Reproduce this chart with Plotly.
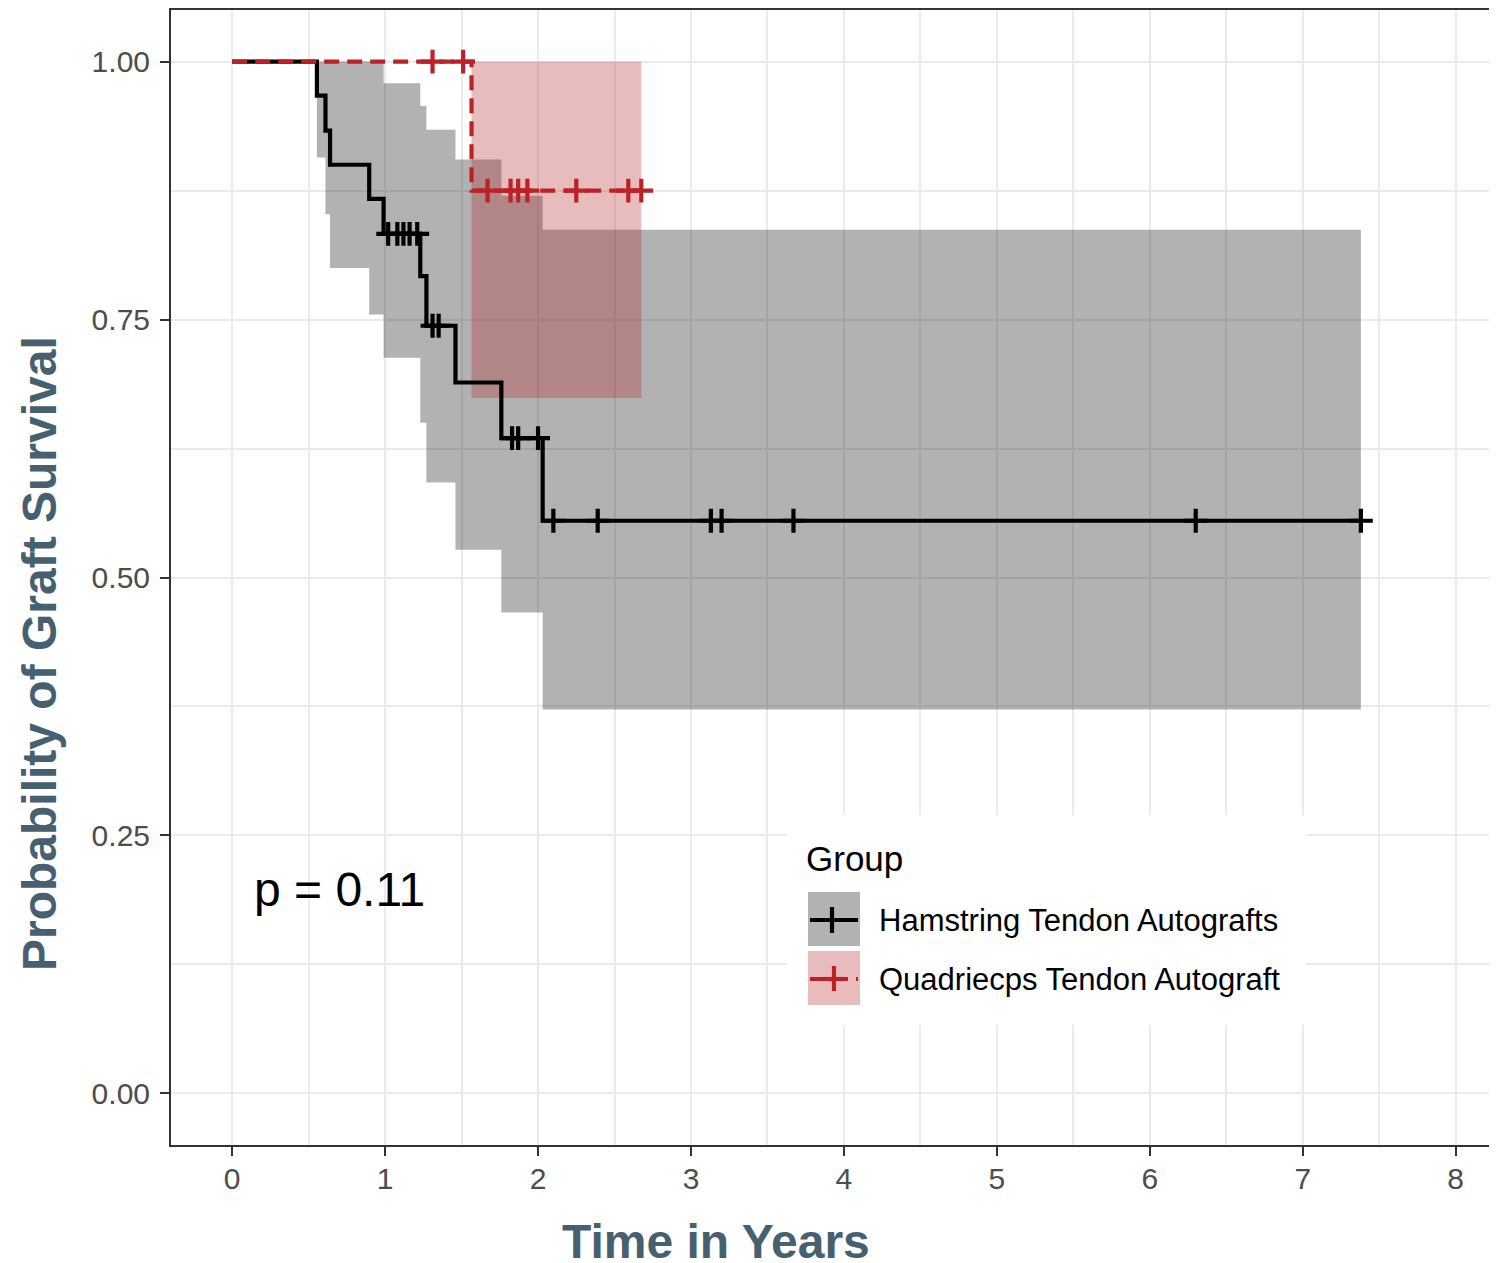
import plotly.graph_objects as go

# ---------------- data ----------------
ham_name = "Hamstring Tendon Autografts"
quad_name = "Quadriecps Tendon Autograft"

ham_time = [0, 0.554, 0.61, 0.64, 0.896, 0.99, 1.23, 1.27, 1.46, 1.76, 2.03, 7.38]
ham_surv = [1.0, 0.967, 0.933, 0.900, 0.867, 0.833, 0.792, 0.744, 0.689, 0.635, 0.555, 0.555]
ham_upper = [1.0, 1.0, 1.0, 1.0, 1.0, 0.979, 0.957, 0.934, 0.905, 0.870, 0.837, 0.837]
ham_lower = [1.0, 0.907, 0.852, 0.800, 0.755, 0.713, 0.650, 0.592, 0.527, 0.466, 0.372, 0.372]
ham_cens_time = [1.02, 1.08, 1.12, 1.16, 1.21, 1.31, 1.35, 1.83, 1.87, 2.00,
                 2.10, 2.39, 3.13, 3.20, 3.67, 6.30, 7.38]
ham_cens_surv = [0.833, 0.833, 0.833, 0.833, 0.833, 0.744, 0.744, 0.635, 0.635, 0.635,
                 0.555, 0.555, 0.555, 0.555, 0.555, 0.555, 0.555]

quad_time = [0, 1.565, 2.675]
quad_surv = [1.0, 0.875, 0.875]
quad_upper = [1.0, 1.0, 1.0]
quad_lower = [1.0, 0.674, 0.674]
quad_cens_time = [1.31, 1.51, 1.67, 1.82, 1.87, 1.93, 2.25, 2.59, 2.675]
quad_cens_surv = [1.0, 1.0, 0.875, 0.875, 0.875, 0.875, 0.875, 0.875, 0.875]

x_ticks = [0, 1, 2, 3, 4, 5, 6, 7, 8]
x_minor = [0.5, 1.5, 2.5, 3.5, 4.5, 5.5, 6.5, 7.5]
y_ticks = [0, 0.25, 0.5, 0.75, 1.0]
y_ticktext = ["0.00", "0.25", "0.50", "0.75", "1.00"]
y_minor = [0.125, 0.375, 0.625, 0.875]

p_text = "p = 0.11"
legend_title = "Group"
x_title = "Time in Years"
y_title = "Probability of Graft Survival"

# ---------------- styles ----------------
FONT = "Liberation Sans, Arial, sans-serif"
BLACK = "#000000"
RED = "#BB2228"
GREY_FILL = "rgba(0,0,0,0.3)"
RED_FILL = "rgba(178,34,34,0.3)"
TITLE_COL = "#46606F"
TICK_COL = "#4D4D4D"
GRID = "#EBEBEB"
LW = 4.2
DASH = "15px,8px"

OFF = 8  # page body margin
W, H = 1497 - OFF, 1263 - OFF
L, T = 171 - OFF, 10 - OFF
R = 0
B = H - (1145 - OFF)
PW, PH = W - L - R, H - T - B


def px(xp):
    return (xp - OFF - L) / PW


def py(yp):
    return (H - B - (yp - OFF)) / PH


fig = go.Figure()

# confidence bands
fig.add_trace(go.Scatter(x=ham_time, y=ham_lower, mode="lines", line=dict(width=0, shape="hv"),
                         showlegend=False, hoverinfo="skip"))
fig.add_trace(go.Scatter(x=ham_time, y=ham_upper, mode="lines", line=dict(width=0, shape="hv"),
                         fill="tonexty", fillcolor=GREY_FILL, showlegend=False, hoverinfo="skip"))
fig.add_trace(go.Scatter(x=quad_time, y=quad_lower, mode="lines", line=dict(width=0, shape="hv"),
                         showlegend=False, hoverinfo="skip"))
fig.add_trace(go.Scatter(x=quad_time, y=quad_upper, mode="lines", line=dict(width=0, shape="hv"),
                         fill="tonexty", fillcolor=RED_FILL, showlegend=False, hoverinfo="skip"))

# survival curves
fig.add_trace(go.Scatter(x=ham_time, y=ham_surv, mode="lines", name=ham_name,
                         line=dict(color=BLACK, width=LW, shape="hv"), showlegend=False))
fig.add_trace(go.Scatter(x=ham_cens_time, y=ham_cens_surv, mode="markers", showlegend=False,
                         marker=dict(symbol="cross-thin", size=17, line=dict(color=BLACK, width=LW))))
fig.add_trace(go.Scatter(x=quad_time, y=quad_surv, mode="lines", name=quad_name,
                         line=dict(color=RED, width=LW, shape="hv", dash=DASH), showlegend=False))
fig.add_trace(go.Scatter(x=quad_cens_time, y=quad_cens_surv, mode="markers", showlegend=False,
                         marker=dict(symbol="cross-thin", size=17, line=dict(color=RED, width=LW))))

# ---------------- manual legend (ggplot style) ----------------
shapes = [
    dict(type="rect", xref="paper", yref="paper", x0=px(787), x1=px(1306), y0=py(1025), y1=py(815),
         fillcolor="white", line=dict(width=0), layer="above"),
    dict(type="rect", xref="paper", yref="paper", x0=px(808), x1=px(860), y0=py(946), y1=py(892),
         fillcolor=GREY_FILL, line=dict(width=0), layer="above"),
    dict(type="rect", xref="paper", yref="paper", x0=px(808), x1=px(860), y0=py(1005), y1=py(951),
         fillcolor=RED_FILL, line=dict(width=0), layer="above"),
    dict(type="line", xref="paper", yref="paper", x0=px(810), x1=px(858), y0=py(920), y1=py(920),
         line=dict(color=BLACK, width=LW), layer="above"),
    dict(type="line", xref="paper", yref="paper", x0=px(832), x1=px(832), y0=py(907), y1=py(933),
         line=dict(color=BLACK, width=LW), layer="above"),
    dict(type="line", xref="paper", yref="paper", x0=px(810), x1=px(858), y0=py(979), y1=py(979),
         line=dict(color=RED, width=LW, dash=DASH), layer="above"),
    dict(type="line", xref="paper", yref="paper", x0=px(834), x1=px(834), y0=py(966), y1=py(991),
         line=dict(color=RED, width=LW), layer="above"),
    dict(type="line", xref="paper", yref="paper", x0=px(822), x1=px(846), y0=py(979), y1=py(979),
         line=dict(color=RED, width=LW), layer="above"),
]

annotations = [
    dict(text=legend_title, xref="paper", yref="paper", x=px(804), y=py(858), xanchor="left",
         yanchor="middle", showarrow=False, font=dict(family=FONT, size=35, color="black")),
    dict(text=ham_name, xref="paper", yref="paper", x=px(877), y=py(920), xanchor="left",
         yanchor="middle", showarrow=False, font=dict(family=FONT, size=31, color="black")),
    dict(text=quad_name, xref="paper", yref="paper", x=px(877), y=py(979), xanchor="left",
         yanchor="middle", showarrow=False, font=dict(family=FONT, size=31, color="black")),
    dict(text=p_text, xref="x", yref="y", x=0.13, y=0.198, xanchor="left", yanchor="middle",
         showarrow=False, font=dict(family=FONT, size=48, color="black")),
    dict(text="<b>%s</b>" % x_title, xref="paper", yref="paper", x=px(716), y=py(1241),
         xanchor="center", yanchor="middle", showarrow=False,
         font=dict(family=FONT, size=48, color=TITLE_COL)),
    dict(text="<b>%s</b>" % y_title, xref="paper", yref="paper", x=px(39), y=py(654),
         xanchor="center", yanchor="middle", textangle=-90, showarrow=False,
         font=dict(family=FONT, size=48, color=TITLE_COL)),
]

fig.update_layout(
    width=W, height=H,
    margin=dict(l=L, r=R, t=T, b=B, pad=0),
    paper_bgcolor="white", plot_bgcolor="white",
    showlegend=False,
    shapes=shapes, annotations=annotations,
    font=dict(family=FONT),
)

fig.update_xaxes(
    range=[-0.4, 8.27], tickmode="array", tickvals=x_ticks, ticktext=[str(v) for v in x_ticks],
    ticks="outside", ticklen=9, tickwidth=2, tickcolor="#333333", ticklabelstandoff=-3,
    tickfont=dict(family=FONT, size=30, color=TICK_COL),
    showline=True, linecolor="#333333", linewidth=2, mirror=True,
    showgrid=True, gridcolor=GRID, gridwidth=2, zeroline=False,
    minor=dict(tickmode="array", tickvals=x_minor, showgrid=True, gridcolor=GRID, gridwidth=1.6, ticks=""),
)
fig.update_yaxes(
    range=[-0.05, 1.05], tickmode="array", tickvals=y_ticks, ticktext=y_ticktext,
    ticks="outside", ticklen=9, tickwidth=2, tickcolor="#333333", ticklabelstandoff=4,
    tickfont=dict(family=FONT, size=30, color=TICK_COL),
    showline=True, linecolor="#333333", linewidth=2, mirror=False,
    showgrid=True, gridcolor=GRID, gridwidth=2, zeroline=False,
    minor=dict(tickmode="array", tickvals=y_minor, showgrid=True, gridcolor=GRID, gridwidth=1.6, ticks=""),
)

fig.write_html("out.html")
